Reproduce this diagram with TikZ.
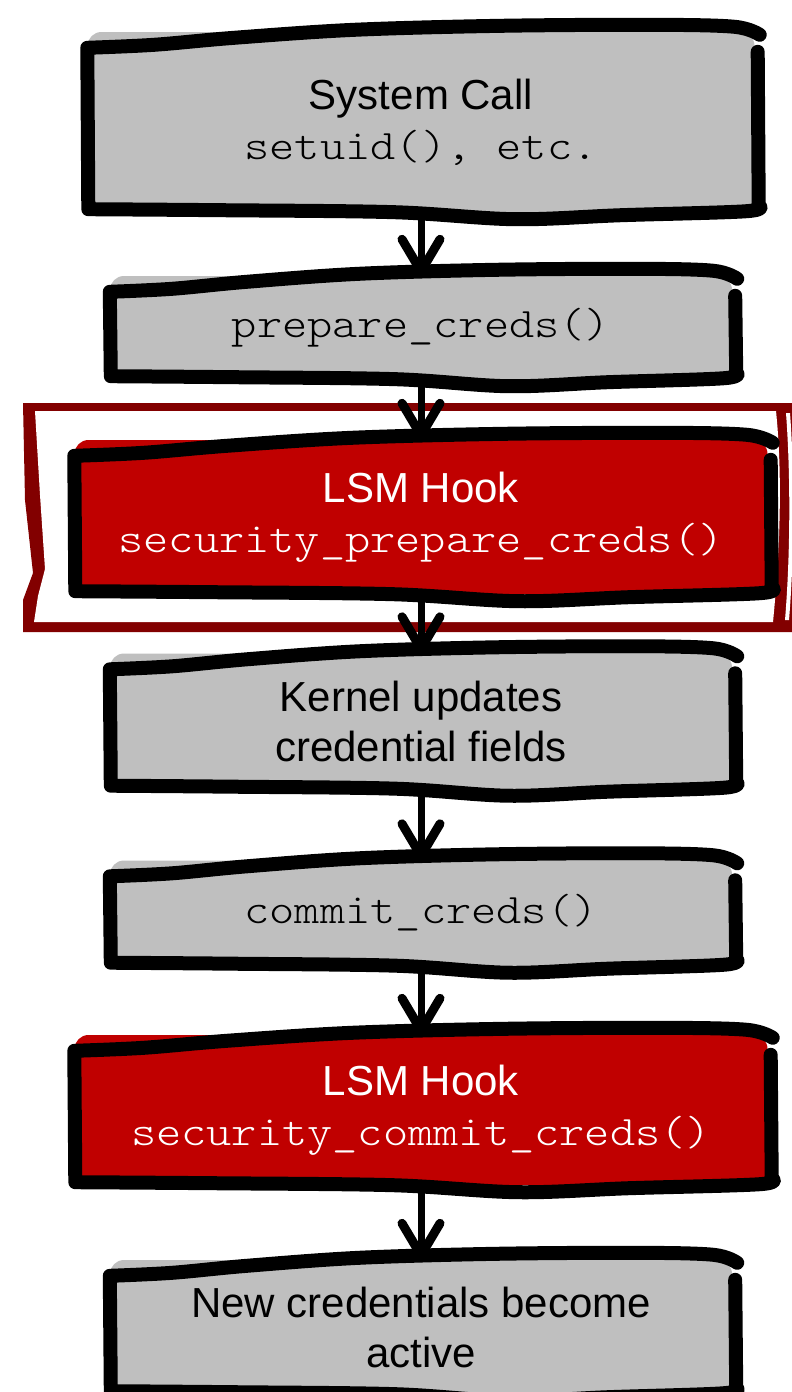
\documentclass[tikz,border=0pt]{standalone}
\usepackage{fontspec}
\setmainfont{Liberation Sans}
\newfontfamily\codefont{Latin Modern Mono Light}
\usepackage{graphicx}
\usetikzlibrary{arrows.meta,calc}
\definecolor{boxgray}{RGB}{191,191,191}
\definecolor{hookred}{RGB}{192,0,0}
\definecolor{framered}{RGB}{130,0,0}
\newcommand{\code}[1]{\scalebox{1.143}[1]{\codefont #1}}
\newcommand{\sketchoutline}[1]{%
  \draw[outl] let \p1=(#1.north west), \p2=(#1.south east), \n1={\x2-\x1} in
    (\x2+3pt,\y1-20pt) -- (\x2+4pt,\y2+7pt)
    -- plot[smooth,tension=0.55] coordinates {
      (\x2+4pt,\y2+7pt) (\x2-8pt,\y2+1pt) (\x1+0.8*\n1*1pt,\y2-3pt)
      (\x1+0.64*\n1*1pt,\y2-7pt) (\x1+0.46*\n1*1pt,\y2) (\x1+0.2*\n1*1pt,\y2+2pt)
      (\x1+1pt,\y2+3pt)}
    -- (\x1,\y1-16pt)
    -- plot[smooth,tension=0.55] coordinates {
      (\x1,\y1-16pt) (\x1+0.1*\n1*1pt,\y1-13pt) (\x1+0.22*\n1*1pt,\y1-6pt)
      (\x1+0.4*\n1*1pt,\y1+2pt)
      (\x1+0.62*\n1*1pt,\y1+6pt) (\x1+0.85*\n1*1pt,\y1+7pt)
      (\x1+0.97*\n1*1pt,\y1+5pt) (\x2+5pt,\y1-3pt)};
}
\tikzset{
  box/.style={rectangle, rounded corners=14pt, inner sep=0pt, align=center,
    font=\fontsize{42}{50}\selectfont},
  graybox/.style={box, fill=boxgray, text=black},
  redbox/.style={box, fill=hookred, text=white},
  outl/.style={line width=14pt, line cap=round, line join=round, black},
  arr/.style={line width=7pt, black,
    -{Straight Barb[length=32pt,width=38pt,line width=9pt,round]}},
}
\begin{document}
\begin{tikzpicture}[x=1pt,y=-1pt]
\useasboundingbox (0,0) rectangle (792,1392);
\clip (0,0) rectangle (792,1392);
\fill[white] (0,0) rectangle (792,1392);

% highlight frame around the first LSM hook
\fill[framered] (23,403) -- (800,403) -- (800,632) -- (23,632) -- (23,600)
  -- (33,573) -- (25,500) -- cycle;
\fill[white] (35,411) -- (776,411) .. controls (782,470) and (781,540) .. (773,622)
  -- (34,622) -- (38,596) -- (45,569) -- (40,495) -- cycle;
\fill[white] (786,413) .. controls (791,480) and (790,560) .. (785,620)
  -- (789,620) .. controls (794,560) and (795,480) .. (790,413) -- cycle;

% boxes
\node[graybox, minimum width=667pt, minimum height=180pt] (b1) at (421,122)
  {System Call\\\code{setuid(), etc.}};
\node[graybox, minimum width=622pt, minimum height=103pt] (b2) at (421,327.5)
  {\code{prepare\_creds()}};
\node[redbox, minimum width=693pt, minimum height=154pt] (b3) at (421,517)
  {LSM Hook\\\code{security\_prepare\_creds()}};
\node[graybox, minimum width=622pt, minimum height=135pt] (b4) at (421,721)
  {Kernel updates\\credential fields};
\node[graybox, minimum width=622pt, minimum height=105pt] (b5) at (421,913)
  {\code{commit\_creds()}};
\node[redbox, minimum width=693pt, minimum height=150pt] (b6) at (421,1110)
  {LSM Hook\\\code{security\_commit\_creds()}};
\node[graybox, minimum width=622pt, minimum height=134pt] (b7) at (421,1327)
  {New credentials become\\active};

% connectors
\draw[arr] (b1.south) -- (b2.north);
\draw[arr] (b2.south) -- (b3.north);
\draw[arr] (b3.south) -- (b4.north);
\draw[arr] (b4.south) -- (b5.north);
\draw[arr] (b5.south) -- (b6.north);
\draw[arr] (b6.south) -- (b7.north);

% hand-drawn outlines
\sketchoutline{b1}
\sketchoutline{b2}
\sketchoutline{b3}
\sketchoutline{b4}
\sketchoutline{b5}
\sketchoutline{b6}
\sketchoutline{b7}
\end{tikzpicture}
\end{document}
